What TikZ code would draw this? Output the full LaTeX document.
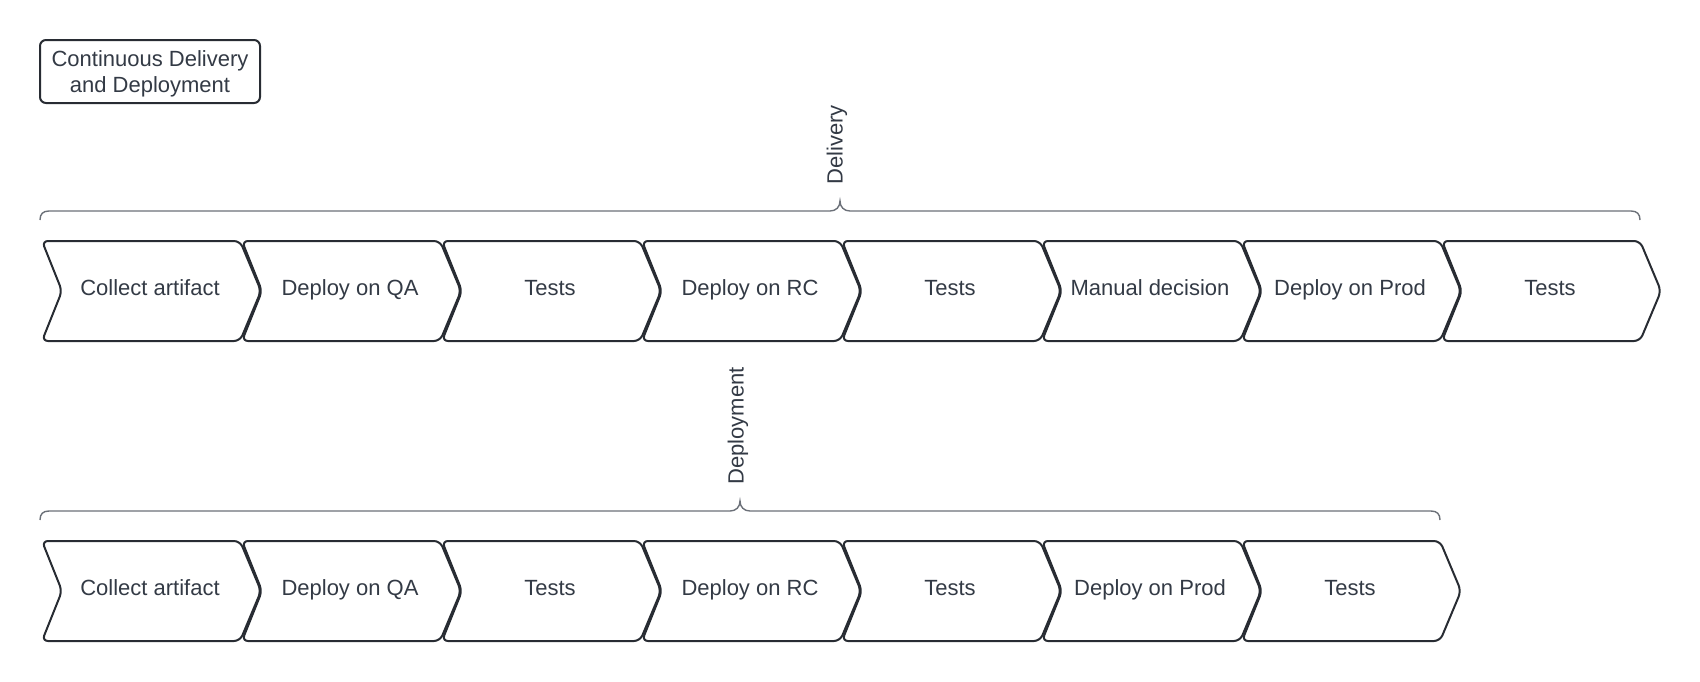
\documentclass[tikz,border=0pt]{standalone}
\usepackage{fontspec}
\setmainfont{Liberation Sans}
\definecolor{txt}{HTML}{333A45}
\definecolor{edge}{HTML}{282C33}
\definecolor{brc}{HTML}{6B7078}
\begin{document}
\begin{tikzpicture}[x=1pt,y=-1pt,
  every node/.style={font=\fontsize{22}{26}\selectfont, text=txt},
  chev/.style={draw=edge, line width=2pt, rounded corners=6pt, line join=round},
  lbl/.style={inner sep=0pt, anchor=base},
  bracepath/.style={draw=brc, line width=1.4pt},
  titlebox/.style={draw=edge, line width=2pt, rounded corners=6pt, minimum width=220pt, minimum height=63pt, inner sep=0pt},
  bracelbl/.style={rotate=90, inner sep=0pt, anchor=center}]
\useasboundingbox (0,0) rectangle (1700,681);

\node[titlebox] (title) at (150,71.5) {};
\node[inner sep=0pt, anchor=base] (title1) at (150,66) {Continuous Delivery};
\node[inner sep=0pt, anchor=base] (title2) at (150,92) {and Deployment};

% Row 1
\foreach \t [count=\i from 0] in {Collect artifact,Deploy on QA,Tests,Deploy on RC,Tests,Manual decision,Deploy on Prod,Tests} {
  \pgfmathsetmacro\L{42+200*\i}
  \draw[chev] (\L,241) -- ({\L+198},241) -- ({\L+219},291) -- ({\L+198},341) -- (\L,341) -- ({\L+20},291) -- cycle;
  \node[lbl] (a\i) at ({\L+108},295) {\t};
}

% Row 2
\foreach \t [count=\i from 0] in {Collect artifact,Deploy on QA,Tests,Deploy on RC,Tests,Deploy on Prod,Tests} {
  \pgfmathsetmacro\L{42+200*\i}
  \draw[chev] (\L,541) -- ({\L+198},541) -- ({\L+219},591) -- ({\L+198},641) -- (\L,641) -- ({\L+20},591) -- cycle;
  \node[lbl] (b\i) at ({\L+108},595) {\t};
}

% Brace 1
\draw[bracepath] (40,220) .. controls (40,214) and (43,211) .. (49,211) -- (830,211)
  .. controls (836,211) and (840,207) .. (840,201)
  .. controls (840,207) and (844,211) .. (850,211) -- (1631,211)
  .. controls (1637,211) and (1640,214) .. (1640,220);
\node[bracelbl] (delivery) at (837,145) {Delivery};

% Brace 2
\draw[bracepath] (40,520) .. controls (40,514) and (43,511) .. (49,511) -- (730,511)
  .. controls (736,511) and (740,507) .. (740,501)
  .. controls (740,507) and (744,511) .. (750,511) -- (1431,511)
  .. controls (1437,511) and (1440,514) .. (1440,520);
\node[bracelbl] (deployment) at (738,426) {Deployment};
\end{tikzpicture}
\end{document}
